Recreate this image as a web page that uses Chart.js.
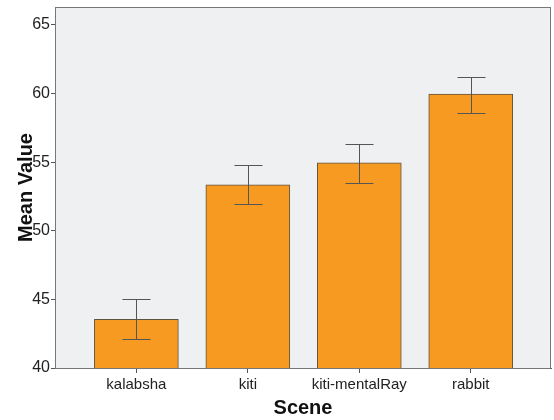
<!DOCTYPE html>
<html>
<head>
<meta charset="utf-8">
<script src="https://cdn.jsdelivr.net/npm/chart.js@4/dist/chart.umd.min.js"></script>
<style>
  html, body { margin: 0; padding: 0; background: #fff; }
  #wrap { width: 554px; height: 420px; }
</style>
</head>
<body>
<div id="wrap"><canvas id="c" width="554" height="420"></canvas></div>
<script>
// ── data ──────────────────────────────────────────────────────────────
const scenes    = ['kalabsha', 'kiti', 'kiti-mentalRay', 'rabbit'];
const meanValue = [43.55, 53.35, 54.95, 59.95];
const errLow    = [42.1, 51.96, 53.5, 58.55];
const errHigh   = [45.03, 54.8, 56.35, 61.2];
const yTicks    = [40, 45, 50, 55, 60, 65];

const font = 'Liberation Sans, Arial, sans-serif';

// plot background + frame
const plotBg = {
    id: 'plotBg',
    beforeDraw(chart) {
        const { ctx, chartArea: a } = chart;
        ctx.save();
        ctx.fillStyle = '#eff0f2';
        ctx.fillRect(a.left, a.top, a.right - a.left, a.bottom - a.top);
        ctx.restore();
    },
    afterDraw(chart) {
        const { ctx, chartArea: a } = chart;
        ctx.save();
        ctx.strokeStyle = '#777';
        ctx.lineWidth = 1;
        ctx.strokeRect(a.left + 0.5, a.top + 0.5, a.right - a.left - 1, a.bottom - a.top);
        ctx.restore();
    }
};

// error bars drawn through the scales
const errorBars = {
    id: 'errorBars',
    afterDatasetsDraw(chart) {
        const { ctx, scales: { x, y } } = chart;
        ctx.save();
        ctx.strokeStyle = '#555';
        ctx.lineWidth = 1;
        scenes.forEach((s, i) => {
            const px = Math.round(x.getPixelForValue(i)) + 0.5;
            const top = Math.round(y.getPixelForValue(errHigh[i])) + 0.5;
            const bot = Math.round(y.getPixelForValue(errLow[i])) + 0.5;
            ctx.beginPath();
            ctx.moveTo(px, top); ctx.lineTo(px, bot);
            ctx.moveTo(px - 14, top); ctx.lineTo(px + 14, top);
            ctx.moveTo(px - 14, bot); ctx.lineTo(px + 14, bot);
            ctx.stroke();
        });
        ctx.restore();
    }
};

new Chart(document.getElementById('c'), {
    type: 'bar',
    data: {
        datasets: [{
            data: scenes.map((s, i) => ({ x: i, y: meanValue[i] })),
            backgroundColor: '#f79a22',
            borderColor: '#5e5240',
            borderWidth: 1,
            barThickness: 84
        }]
    },
    options: {
        responsive: false,
        animation: false,
        devicePixelRatio: 1,
        layout: { padding: { top: 7, right: 3, bottom: 0, left: 14 } },
        plugins: { legend: { display: false }, tooltip: { enabled: false } },
        scales: {
            x: {
                type: 'linear',
                offset: false,
                min: -0.73,
                max: 3.72,
                afterBuildTicks: ax => { ax.ticks = scenes.map((s, i) => ({ value: i })); },
                afterFit: ax => { ax.height = 52; ax.paddingLeft = 0; ax.paddingRight = 0; },
                ticks: {
                    callback: v => scenes[v],
                    color: '#222',
                    font: { family: font, size: 15 },
                    padding: 3,
                    maxRotation: 0
                },
                grid: { drawOnChartArea: false, offset: false, tickLength: 5, color: '#555' },
                border: { display: true, color: '#555' },
                title: {
                    display: true, text: 'Scene', color: '#111',
                    font: { family: font, size: 20, weight: 'bold' },
                    padding: { top: 0, bottom: 0 }
                }
            },
            y: {
                min: 40,
                max: 66.3,
                afterBuildTicks: ax => { ax.ticks = yTicks.map(v => ({ value: v })); },
                afterFit: ax => { ax.width = 41; ax.paddingTop = 0; ax.paddingBottom = 0; },
                ticks: {
                    color: '#222',
                    font: { family: font, size: 16 },
                    padding: 1
                },
                grid: { drawOnChartArea: false, tickLength: 4, color: '#555' },
                border: { display: true, color: '#777' },
                title: {
                    display: true, text: 'Mean Value', color: '#111',
                    font: { family: font, size: 20, weight: 'bold' },
                    padding: { top: 0, bottom: 0 }
                }
            }
        }
    },
    plugins: [plotBg, errorBars]
});
</script>
</body>
</html>
